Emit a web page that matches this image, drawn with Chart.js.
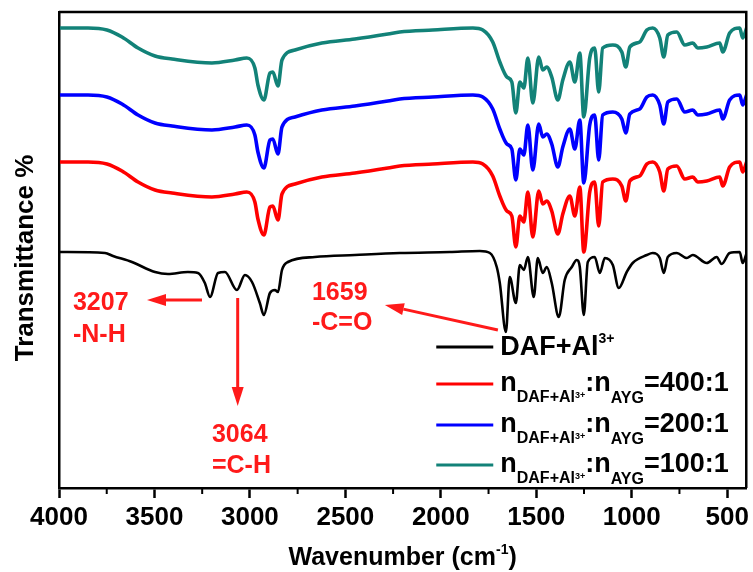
<!DOCTYPE html>
<html>
<head>
<meta charset="utf-8">
<script src="https://cdn.jsdelivr.net/npm/chart.js@4"></script>
<style>
  html, body { margin: 0; padding: 0; background: #fff; }
  canvas { display: block; }
</style>
</head>
<body>
<canvas id="ftirChart" width="753" height="572"></canvas>
<script>
// wavenumber (cm-1) and offset transmittance (arb. units)
const sampleWavenumbers = [3995, 3848, 3749, 3670, 3586, 3497, 3408, 3199, 3078, 3016, 2974, 2958, 2927, 2895, 2880, 2853, 2832, 2764, 2623, 2450, 2277, 2215, 2042, 1832, 1780, 1728, 1691, 1654, 1628, 1607, 1586, 1565, 1544, 1518, 1487, 1466, 1445, 1419, 1387, 1361, 1324, 1298, 1272, 1251, 1220, 1194, 1173, 1152, 1099, 1052, 1031, 1010, 958, 921, 890, 853, 832, 811, 764, 722, 680, 654, 607, 539, 523, 487, 434, 419, 398];
const ratio100 = [460, 460, 458, 451, 440, 432, 429, 425, 428, 430, 420, 403, 388, 415, 416, 402, 428, 438, 445, 449, 454, 456, 458, 460, 458, 446, 426, 411, 406, 375, 406, 400, 430, 385, 431, 418, 421, 411, 388, 408, 426, 406, 435, 371, 430, 440, 396, 440, 443, 436, 421, 441, 446, 458, 460, 450, 431, 453, 456, 443, 445, 440, 441, 445, 436, 455, 460, 450, 460];
const ratio200 = [393, 393, 391, 384, 373, 365, 362, 358, 361, 363, 353, 336, 320, 348, 349, 334, 361, 371, 378, 382, 387, 389, 391, 393, 391, 379, 359, 344, 339, 308, 339, 333, 363, 318, 364, 351, 354, 344, 321, 341, 359, 339, 368, 305, 363, 373, 328, 373, 376, 369, 355, 374, 379, 391, 393, 383, 364, 386, 389, 376, 378, 373, 374, 378, 369, 388, 393, 383, 393];
const ratio400 = [326, 326, 324, 317, 306, 298, 295, 291, 294, 296, 286, 269, 253, 281, 282, 268, 294, 304, 311, 315, 320, 322, 324, 326, 324, 312, 292, 277, 272, 241, 272, 266, 296, 251, 297, 284, 287, 277, 254, 274, 292, 272, 301, 236, 296, 306, 262, 306, 309, 302, 287, 307, 312, 324, 326, 316, 297, 319, 322, 309, 311, 306, 307, 311, 302, 321, 326, 316, 326];

const dafWavenumbers = [3995, 3759, 3717, 3618, 3497, 3429, 3325, 3272, 3236, 3209, 3167, 3131, 3068, 3026, 2989, 2948, 2927, 2895, 2869, 2853, 2832, 2801, 2660, 2450, 2215, 1953, 1796, 1743, 1707, 1691, 1659, 1639, 1607, 1586, 1565, 1544, 1513, 1492, 1466, 1445, 1419, 1382, 1351, 1314, 1288, 1272, 1251, 1230, 1194, 1167, 1141, 1099, 1068, 1026, 995, 921, 890, 853, 832, 811, 764, 712, 680, 607, 555, 529, 487, 434, 419, 398];
const dafAl = [236, 235, 232, 226, 216, 214, 216, 215, 205, 191, 215, 216, 198, 213, 206, 185, 173, 195, 198, 196, 218, 226, 231, 233, 235, 236, 237, 235, 221, 205, 156, 211, 185, 223, 218, 231, 191, 230, 215, 221, 205, 171, 208, 221, 228, 221, 173, 226, 231, 215, 230, 223, 200, 216, 225, 233, 235, 230, 215, 231, 235, 230, 233, 225, 231, 224, 235, 236, 225, 235];

const seriesLabels = ['DAF+Al3+', 'nDAF+Al3+:nAYG=400:1', 'nDAF+Al3+:nAYG=200:1', 'nDAF+Al3+:nAYG=100:1'];
const ratioLabels = ['400:1', '200:1', '100:1'];
const xMajorTicks = [4000, 3500, 3000, 2500, 2000, 1500, 1000, 500];
const xMinorTicks = [3750, 3250, 2750, 2250, 1750, 1250, 750];
const peakLabels = [['3207', '-N-H'], ['3064', '=C-H'], ['1659', '-C=O']];

const FONT = '"Liberation Sans", Arial, sans-serif';
const RED = '#ff1a1a';

function toPoints(xs, ys) {
  return xs.map((x, i) => ({ x: x, y: ys[i] }));
}

function richText(ctx, x, y, parts) {
  parts.forEach(p => {
    ctx.font = 'bold ' + p[1] + 'px ' + FONT;
    ctx.fillText(p[0], x, y + p[2]);
    x += ctx.measureText(p[0]).width;
  });
  return x;
}

function arrow(ctx, x1, y1, x2, y2) {
  const a = Math.atan2(y2 - y1, x2 - x1), head = 19, half = 6;
  const bx = x2 - head * Math.cos(a), by = y2 - head * Math.sin(a);
  ctx.beginPath();
  ctx.moveTo(x1, y1);
  ctx.lineTo(bx, by);
  ctx.stroke();
  ctx.beginPath();
  ctx.moveTo(x2, y2);
  ctx.lineTo(bx + half * Math.sin(a), by - half * Math.cos(a));
  ctx.lineTo(bx - half * Math.sin(a), by + half * Math.cos(a));
  ctx.closePath();
  ctx.fill();
}

// note positions in data units: text left (wavenumber), baselines, arrow tail -> tip
const notes = [
  { w: 3927, v: [178, 146], arrow: [3251, 188, 3539, 188] },
  { w: 3199, v: [46, 15], arrow: [3064, 190, 3064, 82] },
  { w: 2675, v: [188, 158], arrow: [1701, 158, 2293, 183] }
];

const decor = {
  id: 'decor',
  afterDraw(chart) {
    const ctx = chart.ctx, area = chart.chartArea;
    const xs = chart.scales.x, ys = chart.scales.y;
    ctx.save();

    // top and right frame
    ctx.strokeStyle = '#000';
    ctx.lineWidth = 2.5;
    ctx.beginPath();
    ctx.moveTo(area.left, area.top);
    ctx.lineTo(area.right, area.top);
    ctx.lineTo(area.right, area.bottom);
    ctx.stroke();

    // minor ticks
    ctx.lineWidth = 2;
    xMinorTicks.forEach(t => {
      const px = xs.getPixelForValue(t);
      ctx.beginPath();
      ctx.moveTo(px, area.bottom);
      ctx.lineTo(px, area.bottom + 6);
      ctx.stroke();
    });

    // axis titles
    ctx.fillStyle = '#000';
    ctx.textBaseline = 'alphabetic';
    ctx.font = 'bold 25px ' + FONT;
    const main = 'Wavenumber (cm';
    const w1 = ctx.measureText(main).width;
    ctx.font = 'bold 14px ' + FONT;
    const w2 = ctx.measureText('-1').width;
    ctx.font = 'bold 25px ' + FONT;
    const w3 = ctx.measureText(')').width;
    const cx = (area.left + area.right) / 2;
    richText(ctx, cx - (w1 + w2 + w3) / 2, 565, [[main, 25, 0], ['-1', 14, -11], [')', 25, 0]]);

    ctx.save();
    ctx.translate(33, (area.top + area.bottom) / 2 + 8);
    ctx.rotate(-Math.PI / 2);
    ctx.font = 'bold 26px ' + FONT;
    ctx.textAlign = 'center';
    ctx.fillText('Transmittance %', 0, 0);
    ctx.restore();

    // legend
    const rows = [133, 97, 56, 16];
    const lx = area.right - 310;
    chart.data.datasets.forEach((ds, i) => {
      const by = area.bottom - rows[i];
      ctx.strokeStyle = ds.borderColor;
      ctx.lineWidth = 3.2;
      ctx.beginPath();
      ctx.moveTo(lx, by - (i === 0 ? 8 : 7));
      ctx.lineTo(lx + 57, by - (i === 0 ? 8 : 7));
      ctx.stroke();
      ctx.fillStyle = '#000';
      const parts = i === 0
        ? [['DAF+Al', 27, 0], ['3+', 14, -12]]
        : [['n', 27, 0], ['DAF+Al', 16, 11], ['3+', 9, 7], [':n', 27, 0], ['AYG', 16, 12], ['=' + ratioLabels[i - 1], 27, 0]];
      richText(ctx, lx + 64, by, parts);
    });

    // peak notes
    ctx.fillStyle = RED;
    ctx.strokeStyle = RED;
    ctx.lineWidth = 3;
    notes.forEach((n, i) => {
      const tx = xs.getPixelForValue(n.w);
      peakLabels[i].forEach((s, k) => {
        richText(ctx, tx, ys.getPixelForValue(n.v[k]), [[s, 25, 0]]);
      });
      const a = n.arrow;
      arrow(ctx, xs.getPixelForValue(a[0]), ys.getPixelForValue(a[1]),
        xs.getPixelForValue(a[2]), ys.getPixelForValue(a[3]));
    });

    ctx.restore();
  }
};

const ctx = document.getElementById('ftirChart').getContext('2d');
const ftirChart = new Chart(ctx, {
  type: 'line',
  data: {
    datasets: [
      { label: seriesLabels[0], data: toPoints(dafWavenumbers, dafAl), borderColor: '#000000', borderWidth: 2.6 },
      { label: seriesLabels[1], data: toPoints(sampleWavenumbers, ratio400), borderColor: '#ff0000', borderWidth: 3.6 },
      { label: seriesLabels[2], data: toPoints(sampleWavenumbers, ratio200), borderColor: '#0000ff', borderWidth: 3.6 },
      { label: seriesLabels[3], data: toPoints(sampleWavenumbers, ratio100), borderColor: '#128278', borderWidth: 3.6 }
    ]
  },
  options: {
    responsive: false,
    animation: false,
    devicePixelRatio: 1,
    layout: { padding: { top: 12, right: 5, left: 0, bottom: 0 } },
    elements: {
      point: { radius: 0 },
      line: { cubicInterpolationMode: 'monotone', fill: false }
    },
    plugins: {
      legend: { display: false },
      tooltip: { enabled: false }
    },
    scales: {
      x: {
        type: 'linear',
        reverse: true,
        min: 400,
        max: 4000,
        afterFit: s => { s.height = 84; },
        afterBuildTicks: s => { s.ticks = xMajorTicks.map(v => ({ value: v })); },
        grid: { drawOnChartArea: false, drawTicks: true, tickLength: 10, tickWidth: 2.5, tickColor: '#000' },
        border: { display: true, color: '#000', width: 2.5 },
        ticks: {
          autoSkip: false,
          maxRotation: 0,
          padding: 4,
          color: '#000',
          font: { family: FONT, size: 26, weight: 'bold' },
          callback: v => String(v)
        }
      },
      y: {
        min: 0,
        max: 476,
        afterFit: s => { s.width = 59; },
        grid: { display: false },
        border: { display: true, color: '#000', width: 2.5 },
        ticks: { display: false }
      }
    }
  },
  plugins: [decor]
});
</script>
</body>
</html>
